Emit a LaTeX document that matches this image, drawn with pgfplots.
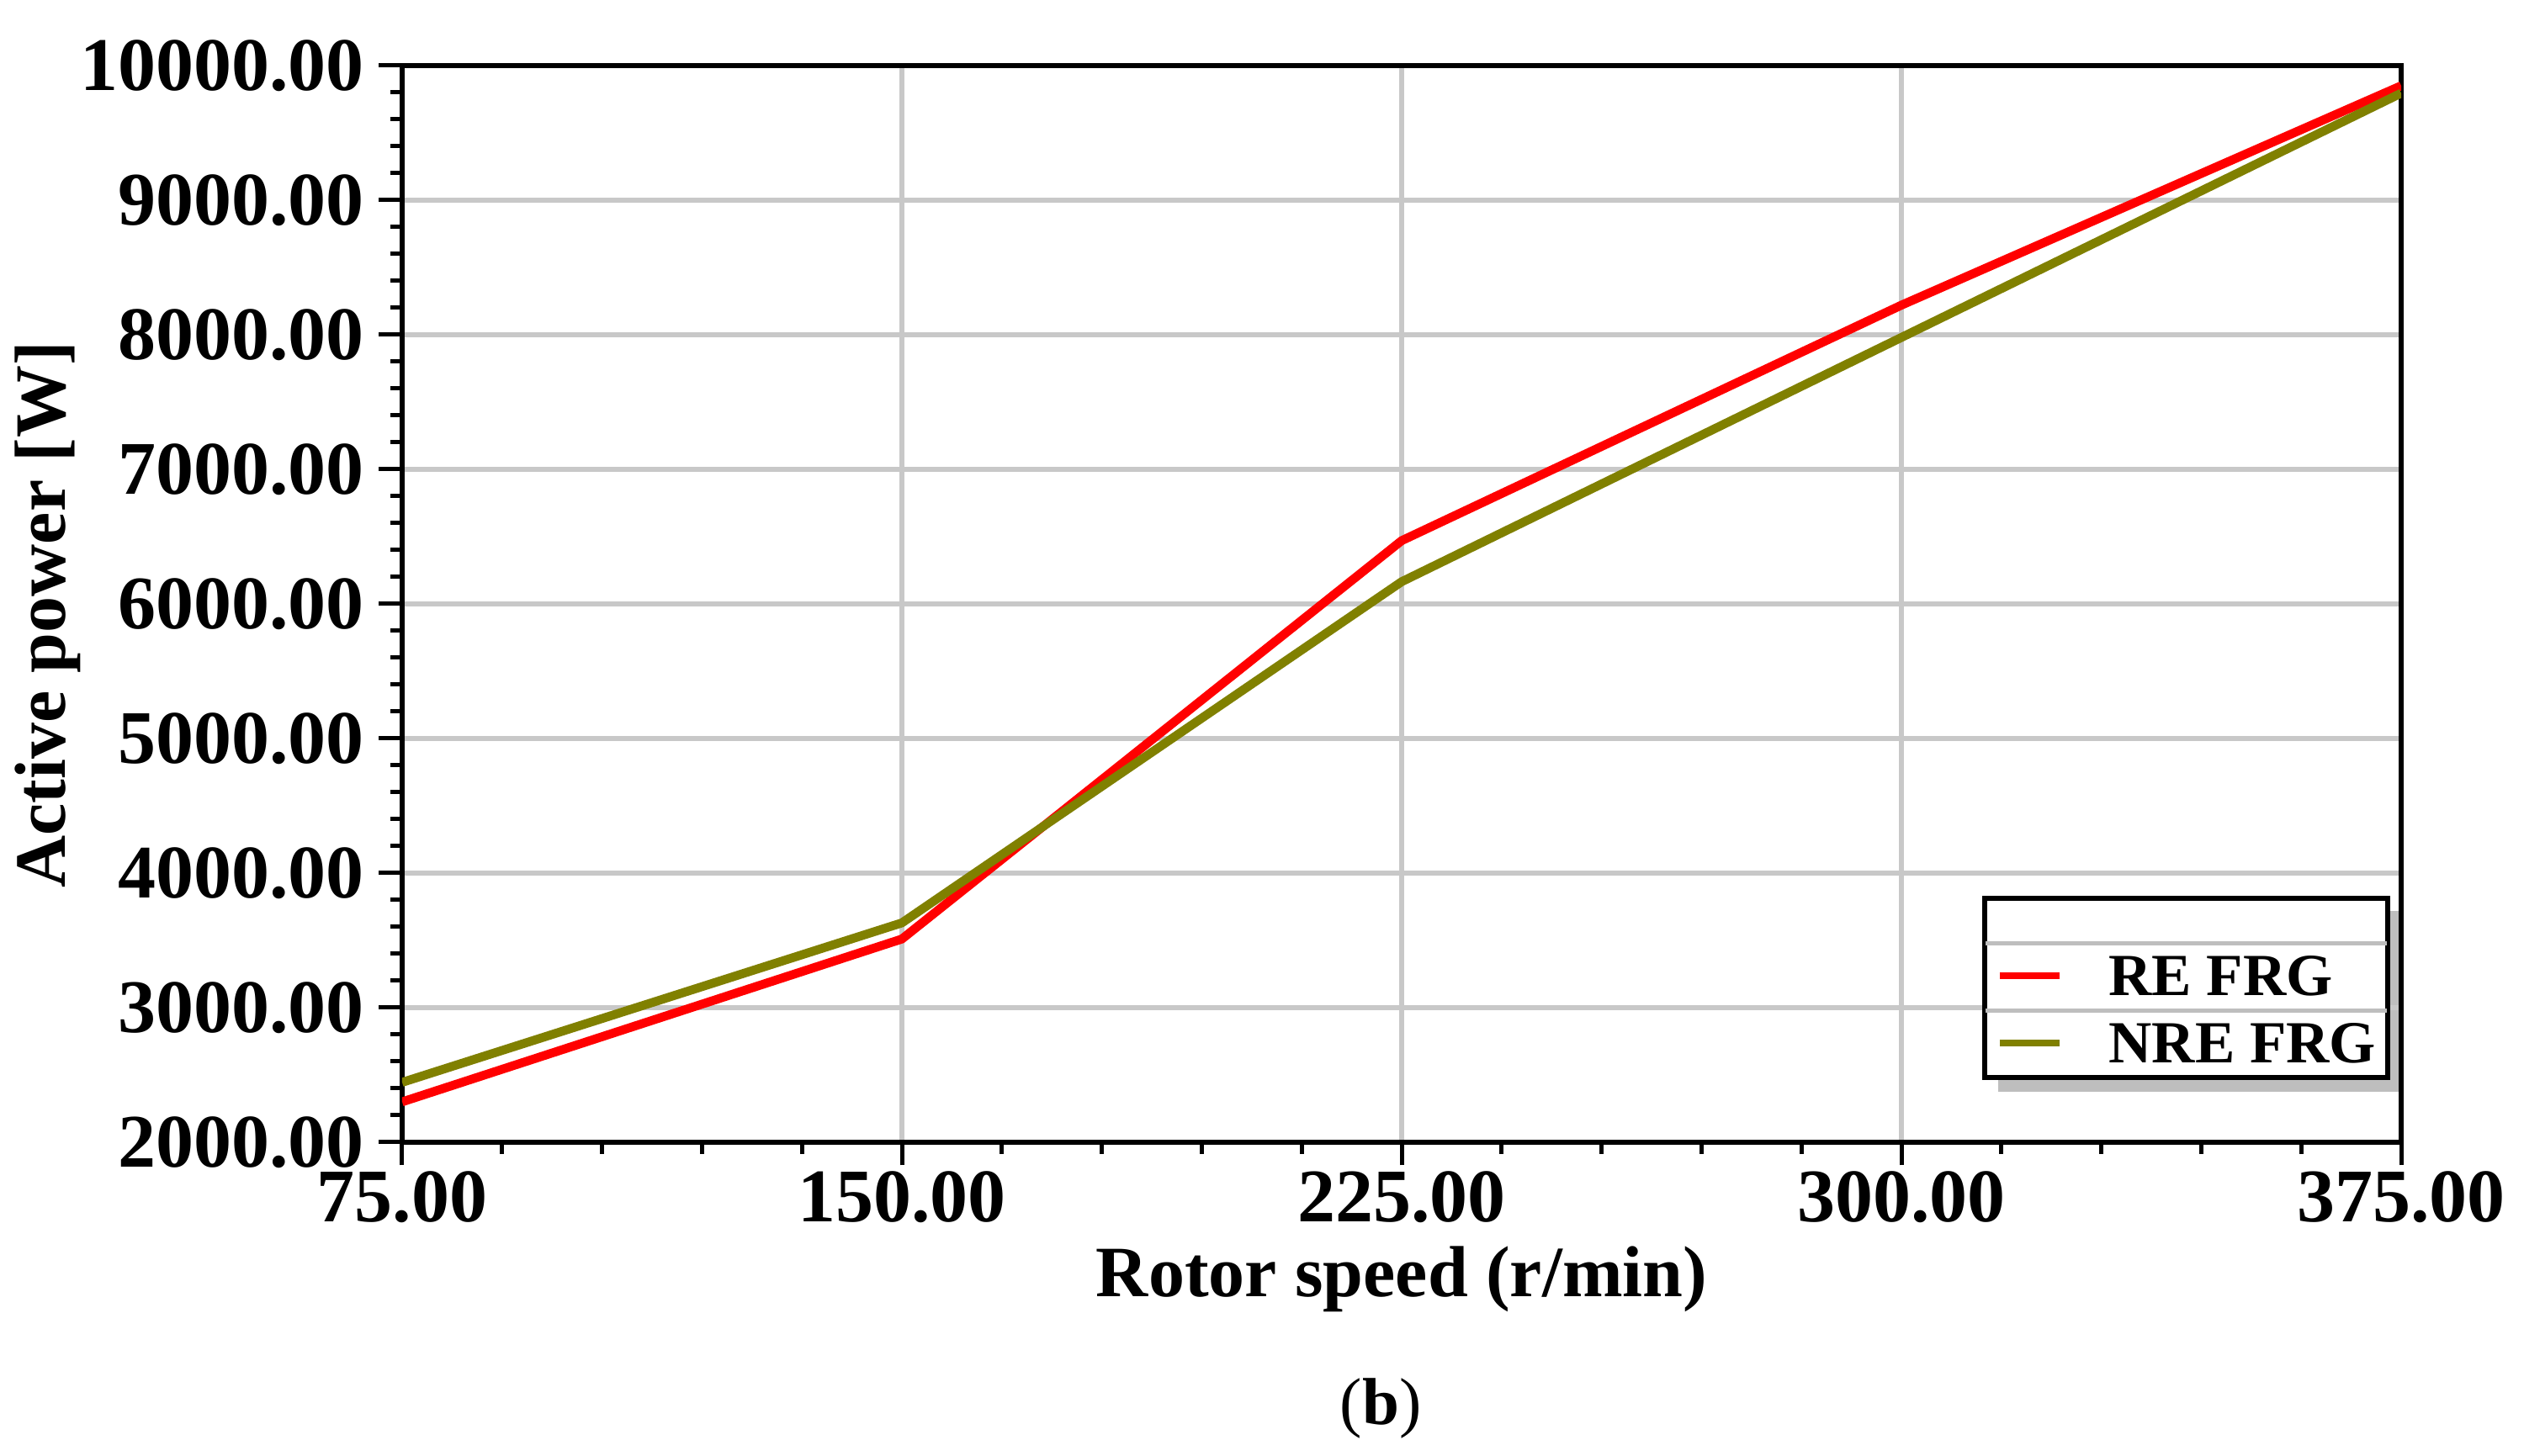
\documentclass[border=0pt]{standalone}
\usepackage{pgfplots}
\pgfplotsset{compat=1.18}
\usepackage{fontspec}
\setmainfont{Liberation Serif}
\usetikzlibrary{backgrounds}
\definecolor{reline}{RGB}{255,0,0}
\definecolor{nreline}{RGB}{128,128,0}
\definecolor{gridgray}{RGB}{200,200,200}
\definecolor{sepgray}{RGB}{190,190,190}
\definecolor{shadowgray}{RGB}{190,190,190}
\begin{document}
\begin{tikzpicture}
\begin{axis}[
  scale only axis,
  width=475.2pt, height=256pt,
  xmin=75, xmax=375, ymin=2000, ymax=10000,
  xtick={75,150,225,300,375},
  ytick={2000,3000,4000,5000,6000,7000,8000,9000,10000},
  minor x tick num=4, minor y tick num=4,
  tick align=outside, tick pos=left,
  major tick length=5.5pt, minor tick length=2.8pt,
  tick style={black, line width=1pt},
  axis line style={black, line width=1.3pt},
  grid=major,
  major grid style={gridgray, line width=1.1pt},
  scaled ticks=false,
  /pgf/number format/assume math mode=true,
  xticklabel style={yshift=2pt, /pgf/number format/.cd, fixed, fixed zerofill, precision=2, 1000 sep={}},
  yticklabel style={/pgf/number format/.cd, fixed, fixed zerofill, precision=2, 1000 sep={}},
  ticklabel style={font=\fontsize{18}{18}\selectfont\bfseries},
  xlabel={Rotor speed (r/min)},
  ylabel={Active power [W]},
  label style={font=\fontsize{17.2}{17.2}\selectfont\bfseries},
  xlabel style={at={(axis description cs:0.5,-0.127)}, anchor=center},
  ylabel style={at={(axis description cs:-0.1772,0.49)}, anchor=center},
  legend style={name=leg, at={(0.9937,0.0594)}, anchor=south east,
    draw=black, line width=0.8pt, fill=white,
    inner xsep=2.6pt, inner ysep=0pt, row sep=0pt, column sep=11pt,
    nodes={inner sep=0pt, text depth=0pt},
    font=\fontsize{14.2}{14.2}\selectfont\bfseries},
  legend cell align=left,
]
\addlegendimage{empty legend}
\addlegendentry[minimum height=10.2pt]{}
\addplot[reline, line width=2.1pt,
  legend image code/.code={\draw[reline, line width=1.5pt] (0pt,0pt) -- (14.2pt,0pt);}]
  coordinates {(75,2300) (150,3510) (225,6470) (300,8220) (375,9850)};
\addlegendentry[minimum height=16pt]{RE FRG}
\addplot[nreline, line width=2.1pt,
  legend image code/.code={\draw[nreline, line width=1.5pt] (0pt,0pt) -- (14.2pt,0pt);}]
  coordinates {(75,2445) (150,3630) (225,6165) (300,7980) (375,9795)};
\addlegendentry[minimum height=16pt]{NRE FRG}
\coordinate (sw) at (axis description cs:0,0);
\coordinate (ne) at (axis description cs:1,1);
\coordinate (bpos) at (axis description cs:0.4895,-0.247);
\end{axis}
\begin{pgfonlayer}{background}
\fill[shadowgray] ([shift={(3.4pt,-3.2pt)}]leg.south west) rectangle ([shift={(3.4pt,-3.2pt)}]leg.north east);
\end{pgfonlayer}
\draw[sepgray, line width=1pt] ([yshift=16pt]leg.south west) -- ([yshift=16pt]leg.south east);
\draw[sepgray, line width=1pt] ([yshift=32pt]leg.south west) -- ([yshift=32pt]leg.south east);
\draw[black, line width=0.8pt] (leg.south west) rectangle (leg.north east);
\node[font=\fontsize{15.8}{15.8}\selectfont, anchor=center] at (bpos) {(\textbf{b})};
\pgfresetboundingbox
\path[use as bounding box] ([shift={(-95.6pt,-74.6pt)}]sw) rectangle ([shift={(29.2pt,15.6pt)}]ne);
\end{tikzpicture}
\end{document}
